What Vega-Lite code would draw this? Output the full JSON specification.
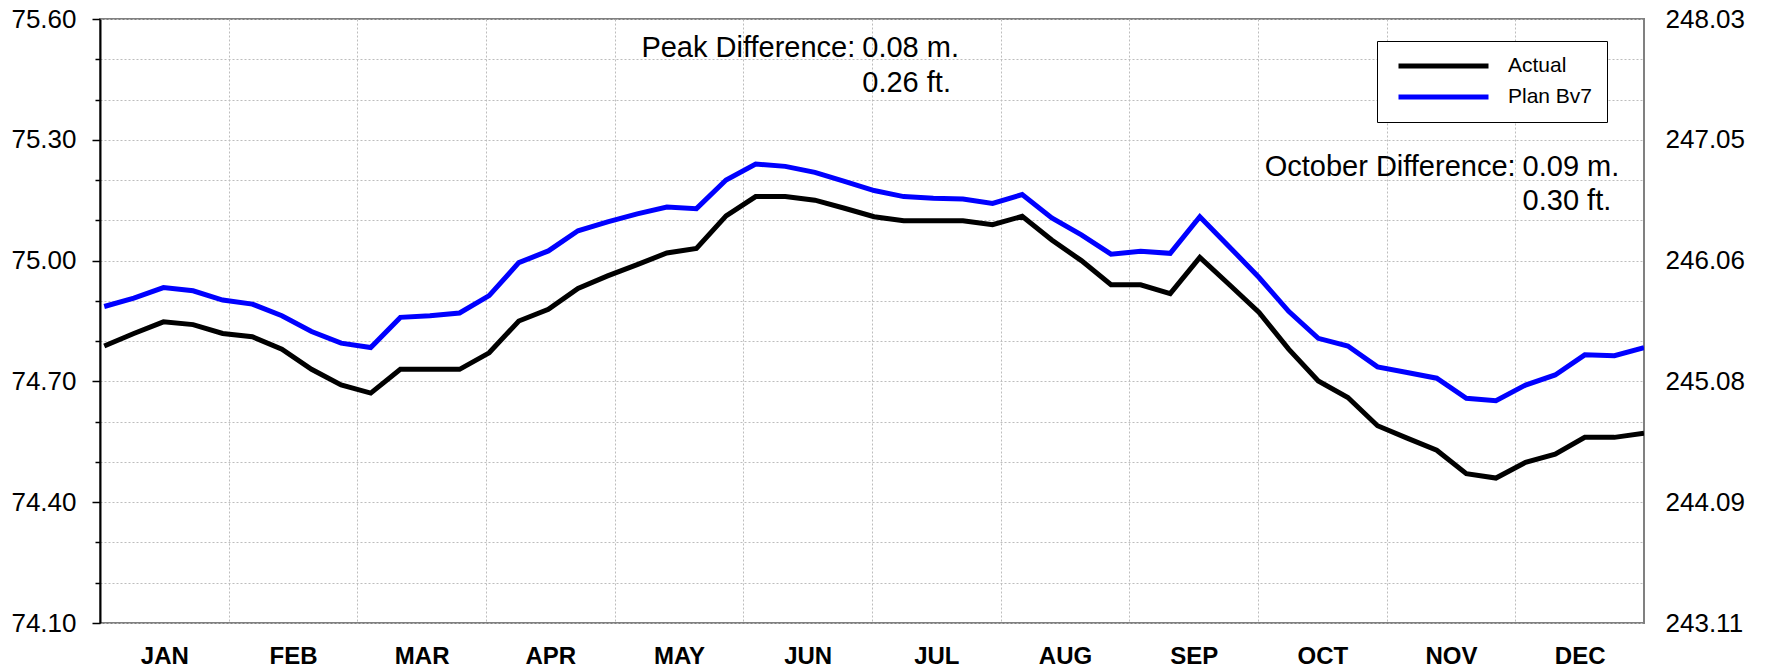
{
  "$schema": "https://vega.github.io/schema/vega-lite/v6.json",
  "width": 1544,
  "height": 604,
  "autosize": "none",
  "padding": {"left": 100, "top": 19, "right": 126, "bottom": 48},
  "background": "white",
  "config": {
    "font": "Liberation Sans",
    "view": {"stroke": "#808080", "strokeWidth": 2}
  },
  "encoding": {
    "x": {
      "field": "day",
      "type": "quantitative",
      "scale": {"domain": [0, 365], "nice": false, "zero": false},
      "axis": {
        "values": [0, 30.4167, 60.8333, 91.25, 121.6667, 152.0833, 182.5, 212.9167, 243.3333, 273.75, 304.1667, 334.5833],
        "grid": true,
        "gridColor": "#bdbdbd",
        "gridDash": [2, 2],
        "gridWidth": 1,
        "ticks": false,
        "domain": false,
        "labelExpr": "['JAN','FEB','MAR','APR','MAY','JUN','JUL','AUG','SEP','OCT','NOV','DEC'][round(datum.value*12/365)]",
        "labelOffset": 64.33,
        "labelAlign": "center",
        "labelBaseline": "top",
        "labelFontSize": 24,
        "labelFontWeight": "bold",
        "labelColor": "#000",
        "labelPadding": 21,
        "labelFlush": false,
        "labelOverlap": false,
        "title": null
      }
    }
  },
  "layer": [
    {
      "data": {
        "values": [
          {"day": 1, "series": "Actual", "level": 74.788},
          {"day": 8, "series": "Actual", "level": 74.819},
          {"day": 15, "series": "Actual", "level": 74.848},
          {"day": 22, "series": "Actual", "level": 74.841},
          {"day": 29, "series": "Actual", "level": 74.819},
          {"day": 36, "series": "Actual", "level": 74.811},
          {"day": 43, "series": "Actual", "level": 74.78},
          {"day": 50, "series": "Actual", "level": 74.73},
          {"day": 57, "series": "Actual", "level": 74.691},
          {"day": 64, "series": "Actual", "level": 74.671},
          {"day": 71, "series": "Actual", "level": 74.73},
          {"day": 78, "series": "Actual", "level": 74.73},
          {"day": 85, "series": "Actual", "level": 74.73},
          {"day": 92, "series": "Actual", "level": 74.771},
          {"day": 99, "series": "Actual", "level": 74.85},
          {"day": 106, "series": "Actual", "level": 74.879},
          {"day": 113, "series": "Actual", "level": 74.931},
          {"day": 120, "series": "Actual", "level": 74.962},
          {"day": 127, "series": "Actual", "level": 74.99},
          {"day": 134, "series": "Actual", "level": 75.019},
          {"day": 141, "series": "Actual", "level": 75.03},
          {"day": 148, "series": "Actual", "level": 75.111},
          {"day": 155, "series": "Actual", "level": 75.159},
          {"day": 162, "series": "Actual", "level": 75.159},
          {"day": 169, "series": "Actual", "level": 75.15},
          {"day": 176, "series": "Actual", "level": 75.13},
          {"day": 183, "series": "Actual", "level": 75.109},
          {"day": 190, "series": "Actual", "level": 75.099},
          {"day": 197, "series": "Actual", "level": 75.099},
          {"day": 204, "series": "Actual", "level": 75.099},
          {"day": 211, "series": "Actual", "level": 75.089},
          {"day": 218, "series": "Actual", "level": 75.11},
          {"day": 225, "series": "Actual", "level": 75.051},
          {"day": 232, "series": "Actual", "level": 75.0},
          {"day": 239, "series": "Actual", "level": 74.94},
          {"day": 246, "series": "Actual", "level": 74.94},
          {"day": 253, "series": "Actual", "level": 74.918},
          {"day": 260, "series": "Actual", "level": 75.008},
          {"day": 267, "series": "Actual", "level": 74.94},
          {"day": 274, "series": "Actual", "level": 74.871},
          {"day": 281, "series": "Actual", "level": 74.78},
          {"day": 288, "series": "Actual", "level": 74.701},
          {"day": 295, "series": "Actual", "level": 74.66},
          {"day": 302, "series": "Actual", "level": 74.59},
          {"day": 309, "series": "Actual", "level": 74.559},
          {"day": 316, "series": "Actual", "level": 74.529},
          {"day": 323, "series": "Actual", "level": 74.471},
          {"day": 330, "series": "Actual", "level": 74.46},
          {"day": 337, "series": "Actual", "level": 74.499},
          {"day": 344, "series": "Actual", "level": 74.519},
          {"day": 351, "series": "Actual", "level": 74.561},
          {"day": 358, "series": "Actual", "level": 74.561},
          {"day": 365, "series": "Actual", "level": 74.571},
          {"day": 1, "series": "Plan Bv7", "level": 74.886},
          {"day": 8, "series": "Plan Bv7", "level": 74.907},
          {"day": 15, "series": "Plan Bv7", "level": 74.933},
          {"day": 22, "series": "Plan Bv7", "level": 74.925},
          {"day": 29, "series": "Plan Bv7", "level": 74.902},
          {"day": 36, "series": "Plan Bv7", "level": 74.892},
          {"day": 43, "series": "Plan Bv7", "level": 74.863},
          {"day": 50, "series": "Plan Bv7", "level": 74.824},
          {"day": 57, "series": "Plan Bv7", "level": 74.795},
          {"day": 64, "series": "Plan Bv7", "level": 74.784},
          {"day": 71, "series": "Plan Bv7", "level": 74.859},
          {"day": 78, "series": "Plan Bv7", "level": 74.863},
          {"day": 85, "series": "Plan Bv7", "level": 74.87},
          {"day": 92, "series": "Plan Bv7", "level": 74.913},
          {"day": 99, "series": "Plan Bv7", "level": 74.995},
          {"day": 106, "series": "Plan Bv7", "level": 75.024},
          {"day": 113, "series": "Plan Bv7", "level": 75.074},
          {"day": 120, "series": "Plan Bv7", "level": 75.096},
          {"day": 127, "series": "Plan Bv7", "level": 75.116},
          {"day": 134, "series": "Plan Bv7", "level": 75.133},
          {"day": 141, "series": "Plan Bv7", "level": 75.129},
          {"day": 148, "series": "Plan Bv7", "level": 75.2},
          {"day": 155, "series": "Plan Bv7", "level": 75.24},
          {"day": 162, "series": "Plan Bv7", "level": 75.234},
          {"day": 169, "series": "Plan Bv7", "level": 75.219},
          {"day": 176, "series": "Plan Bv7", "level": 75.197},
          {"day": 183, "series": "Plan Bv7", "level": 75.174},
          {"day": 190, "series": "Plan Bv7", "level": 75.159},
          {"day": 197, "series": "Plan Bv7", "level": 75.155},
          {"day": 204, "series": "Plan Bv7", "level": 75.153},
          {"day": 211, "series": "Plan Bv7", "level": 75.142},
          {"day": 218, "series": "Plan Bv7", "level": 75.164},
          {"day": 225, "series": "Plan Bv7", "level": 75.106},
          {"day": 232, "series": "Plan Bv7", "level": 75.064},
          {"day": 239, "series": "Plan Bv7", "level": 75.016},
          {"day": 246, "series": "Plan Bv7", "level": 75.023},
          {"day": 253, "series": "Plan Bv7", "level": 75.018},
          {"day": 260, "series": "Plan Bv7", "level": 75.109},
          {"day": 267, "series": "Plan Bv7", "level": 75.034},
          {"day": 274, "series": "Plan Bv7", "level": 74.958},
          {"day": 281, "series": "Plan Bv7", "level": 74.874},
          {"day": 288, "series": "Plan Bv7", "level": 74.807},
          {"day": 295, "series": "Plan Bv7", "level": 74.788},
          {"day": 302, "series": "Plan Bv7", "level": 74.736},
          {"day": 309, "series": "Plan Bv7", "level": 74.722},
          {"day": 316, "series": "Plan Bv7", "level": 74.708},
          {"day": 323, "series": "Plan Bv7", "level": 74.658},
          {"day": 330, "series": "Plan Bv7", "level": 74.652},
          {"day": 337, "series": "Plan Bv7", "level": 74.691},
          {"day": 344, "series": "Plan Bv7", "level": 74.716},
          {"day": 351, "series": "Plan Bv7", "level": 74.766},
          {"day": 358, "series": "Plan Bv7", "level": 74.764},
          {"day": 365, "series": "Plan Bv7", "level": 74.784}
        ]
      },
      "mark": {"type": "line", "strokeWidth": 5, "strokeJoin": "miter", "clip": true},
      "encoding": {
        "y": {
          "field": "level",
          "type": "quantitative",
          "scale": {"domain": [74.1, 75.6], "nice": false, "zero": false},
          "axis": {
            "orient": "left",
            "values": [74.1, 74.2, 74.3, 74.4, 74.5, 74.6, 74.7, 74.8, 74.9, 75.0, 75.1, 75.2, 75.3, 75.4, 75.5, 75.6],
            "grid": true,
            "gridColor": "#bdbdbd",
            "gridDash": [2, 2],
            "gridWidth": 1,
            "domain": true,
            "domainColor": "#000",
            "domainWidth": 2,
            "ticks": true,
            "tickColor": "#000",
            "tickWidth": 1.5,
            "tickSize": {"condition": {"test": "abs((datum.value-74.1)/0.3 - round((datum.value-74.1)/0.3)) < 0.01", "value": 8}, "value": 5},
            "labelExpr": "abs((datum.value-74.1)/0.3 - round((datum.value-74.1)/0.3)) < 0.01 ? format(datum.value, '.2f') : ''",
            "labelFontSize": 26,
            "labelColor": "#000",
            "labelPadding": 16,
            "labelFlush": false,
            "labelOverlap": false,
            "title": null
          }
        },
        "color": {
          "field": "series",
          "type": "nominal",
          "scale": {"domain": ["Actual", "Plan Bv7"], "range": ["#000000", "#0000ff"]},
          "legend": {
            "orient": "none",
            "legendX": 1277,
            "legendY": 22,
            "title": null,
            "symbolType": "stroke",
            "symbolSize": 8100,
            "symbolStrokeWidth": 5,
            "clipHeight": 22,
            "rowPadding": 9,
            "padding": 14,
            "symbolOffset": 5,
            "labelOffset": 17,
            "labelFontSize": 21,
            "labelColor": "#000",
            "labelExpr": "datum.label + '\u00a0\u00a0\u00a0\u00a0'",
            "strokeColor": "#000",
            "fillColor": "#ffffff"
          }
        }
      }
    },
    {
      "data": {
        "values": [
          {"day": 180.2, "level": 75.505, "label": "Peak Difference:", "value": "0.08 m."},
          {"day": 180.2, "level": 75.419, "label": "", "value": "0.26 ft."},
          {"day": 336.3, "level": 75.21, "label": "October Difference:", "value": "0.09 m."},
          {"day": 336.3, "level": 75.125, "label": "", "value": "0.30 ft."}
        ]
      },
      "mark": {"type": "text", "align": "right", "baseline": "alphabetic", "fontSize": 29, "dx": -7, "color": "#000"},
      "encoding": {
        "y": {
          "field": "level",
          "type": "quantitative",
          "axis": {
            "orient": "right",
            "values": [74.1, 74.4, 74.7, 75.0, 75.3, 75.6],
            "grid": false,
            "domain": false,
            "ticks": false,
            "labelExpr": "format(datum.value*3.28084, '.2f')",
            "labelFontSize": 26,
            "labelColor": "#000",
            "labelPadding": 21,
            "labelFlush": false,
            "labelOverlap": false,
            "title": null
          }
        },
        "text": {"field": "label"}
      }
    },
    {
      "data": {
        "values": [
          {"day": 180.2, "level": 75.505, "label": "Peak Difference:", "value": "0.08 m."},
          {"day": 180.2, "level": 75.419, "label": "", "value": "0.26 ft."},
          {"day": 336.3, "level": 75.21, "label": "October Difference:", "value": "0.09 m."},
          {"day": 336.3, "level": 75.125, "label": "", "value": "0.30 ft."}
        ]
      },
      "mark": {"type": "text", "align": "left", "baseline": "alphabetic", "fontSize": 29, "color": "#000"},
      "encoding": {
        "y": {"field": "level", "type": "quantitative", "axis": null},
        "text": {"field": "value"}
      }
    }
  ],
  "resolve": {"axis": {"y": "independent"}}
}
